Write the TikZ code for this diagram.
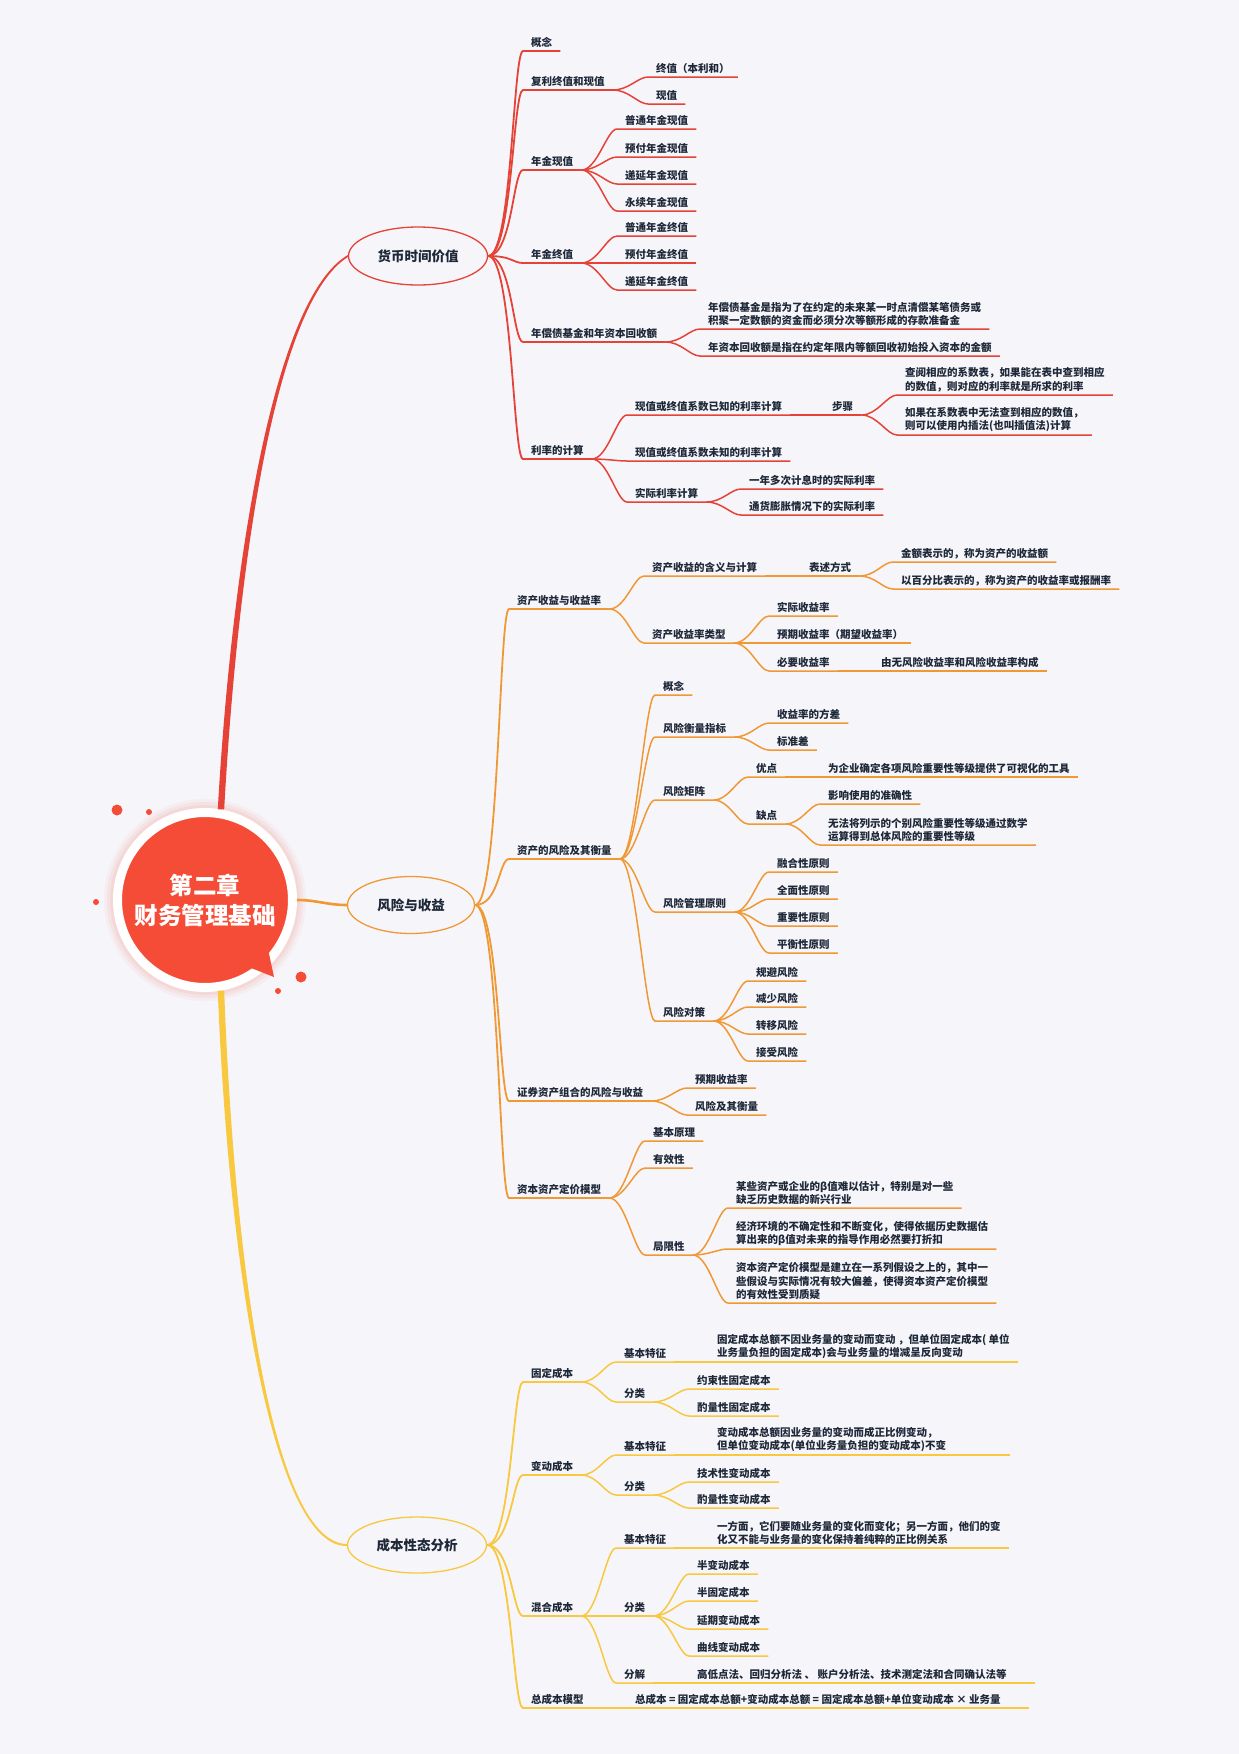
\documentclass[tikz,border=0pt]{standalone}
\usepackage{fontspec}
\usepackage{tikz}
\usetikzlibrary{shapes.geometric}
\newfontfamily\cjk{Noto Sans CJK SC}
\newcommand\lffont{\cjk\bfseries\fontsize{10.5}{13.6}\selectfont}
\newcommand\brfont{\cjk\bfseries\fontsize{13.5}{16}\selectfont}
\newcommand\ctfont{\cjk\bfseries\fontsize{23.5}{30}\selectfont}
\definecolor{bg}{RGB}{246,246,250}
\definecolor{ink}{RGB}{30,40,56}
\definecolor{redc}{RGB}{229,66,56}
\definecolor{orac}{RGB}{240,152,52}
\definecolor{yelc}{RGB}{248,200,64}
\definecolor{ctr}{RGB}{244,76,54}
\tikzset{
  lf/.style={anchor=south west,inner xsep=8,inner ysep=3,font=\lffont,text=ink,align=left},
  br/.style={ellipse,draw=#1,line width=1.3,fill=bg,minimum width=139,minimum height=58,inner sep=0,font=\brfont,text=ink},
  rl/.style={draw=redc,line width=1.5},
  ol/.style={draw=orac,line width=1.5},
  yl/.style={draw=yelc,line width=1.5},
  cr/.style={out=0,in=180,out distance=24,in distance=10},
  cn/.style={out=0,in=180,out distance=16,in distance=10},
}
\begin{document}
\begin{tikzpicture}[x=1pt,y=-1pt]
\useasboundingbox (0,0) rectangle (1239,1754);
\fill[bg] (0,0) rectangle (1239,1754);

% centre
\fill[ctr,opacity=0.05] (205,900) circle (101);
\fill[ctr,opacity=0.06] (205,900) circle (98);
\fill[ctr,opacity=0.08] (205,900) circle (95);
\node [circle,fill=ctr,draw=white,line width=9,minimum size=175,inner sep=0,text=white,font=\ctfont,align=center] (root) at(205,900){第二章\\财务管理基础};
\fill[ctr] (246,966) -- (274,977) -- (268,949) -- cycle;
\fill[ctr] (117,810) circle (5.5);
\fill[ctr] (149,812) circle (3);
\fill[ctr] (96,902) circle (3);
\fill[ctr] (301,977) circle (5.5);
\fill[ctr] (278,991) circle (3);

\node [br=redc] (m1) at(418,256){货币时间价值};
\node [br=orac,minimum width=127,minimum height=57] (m2) at(411,905){风险与收益};
\node [br=yelc,minimum height=56] (m3) at(417,1545){成本性态分析};

\fill[redc] ([xshift=-3.2]root.80) .. controls (232,560) and (274,298) .. ([yshift=1]m1.west) -- ([yshift=-1]m1.west) .. controls (276,302) and (238,560) .. ([xshift=3.2]root.80) -- cycle;
\draw[orac,line width=2.6] (root.east) to[out=0,in=180] (m2.west);
\fill[yelc] ([xshift=-3.2]root.-80) .. controls (229,1280) and (275,1547) .. ([yshift=-1]m3.west) -- ([yshift=1]m3.west) .. controls (275,1543) and (235,1280) .. ([xshift=3.2]root.-80) -- cycle;

% money
\node [lf] (a1) at(523,51){概念};
\node [lf] (a2) at(523,90){复利终值和现值};
\node [lf] (a21) at(648,77){终值（本利和）};
\node [lf] (a22) at(648,104){现值};
\node [lf] (a3) at(523,170){年金现值};
\node [lf] (a31) at(617,129){普通年金现值};
\node [lf] (a32) at(617,157){预付年金现值};
\node [lf] (a33) at(617,184){递延年金现值};
\node [lf] (a34) at(617,211){永续年金现值};
\node [lf] (a4) at(523,263){年金终值};
\node [lf] (a41) at(617,236){普通年金终值};
\node [lf] (a42) at(617,263){预付年金终值};
\node [lf] (a43) at(617,290){递延年金终值};
\node [lf] (a5) at(523,342){年偿债基金和年资本回收额};
\node [lf] (a51) at(700,329){年偿债基金是指为了在约定的未来某一时点清偿某笔债务或\\积聚一定数额的资金而必须分次等额形成的存款准备金};
\node [lf] (a52) at(700,356){年资本回收额是指在约定年限内等额回收初始投入资本的金额};
\node [lf] (a6) at(523,459){利率的计算};
\node [lf] (a61) at(627,415){现值或终值系数已知的利率计算};
\node [lf] (a611) at(824,415){步骤};
\node [lf] (a6111) at(897,395){查阅相应的系数表，如果能在表中查到相应\\的数值，则对应的利率就是所求的利率};
\node [lf] (a6112) at(897,435){如果在系数表中无法查到相应的数值，\\则可以使用内插法(也叫插值法)计算};
\node [lf] (a62) at(627,461){现值或终值系数未知的利率计算};
\node [lf] (a63) at(627,502){实际利率计算};
\node [lf] (a631) at(741,489){一年多次计息时的实际利率};
\node [lf] (a632) at(741,515){通货膨胀情况下的实际利率};

\draw[rl,line width=1.8](m1.east) to[cr] (a1.south west) -- (a1.south east);
\draw[rl,line width=1.8](m1.east) to[cr] (a2.south west) -- (a2.south east);
\draw[rl,line width=1.8](m1.east) to[cr] (a3.south west) -- (a3.south east);
\draw[rl,line width=1.8](m1.east) to[cr] (a4.south west) -- (a4.south east);
\draw[rl,line width=1.8](m1.east) to[cr] (a5.south west) -- (a5.south east);
\draw[rl,line width=1.8](m1.east) to[cr] (a6.south west) -- (a6.south east);
\draw[rl](a2.south east) to[cn] (a21.south west) -- (a21.south east);
\draw[rl](a2.south east) to[cn] (a22.south west) -- (a22.south east);
\draw[rl](a3.south east) to[cn] (a31.south west) -- (a31.south east);
\draw[rl](a3.south east) to[cn] (a32.south west) -- (a32.south east);
\draw[rl](a3.south east) to[cn] (a33.south west) -- (a33.south east);
\draw[rl](a3.south east) to[cn] (a34.south west) -- (a34.south east);
\draw[rl](a4.south east) to[cn] (a41.south west) -- (a41.south east);
\draw[rl](a4.south east) to[cn] (a42.south west) -- (a42.south east);
\draw[rl](a4.south east) to[cn] (a43.south west) -- (a43.south east);
\draw[rl](a5.south east) to[cn] (a51.south west) -- (a51.south east);
\draw[rl](a5.south east) to[cn] (a52.south west) -- (a52.south east);
\draw[rl](a6.south east) to[cn] (a61.south west) -- (a61.south east);
\draw[rl](a61.south east) -- (a611.south west) -- (a611.south east);
\draw[rl](a611.south east) to[cn] (a6111.south west) -- (a6111.south east);
\draw[rl](a611.south east) to[cn] (a6112.south west) -- (a6112.south east);
\draw[rl](a6.south east) to[cn] (a62.south west) -- (a62.south east);
\draw[rl](a6.south east) to[cn] (a63.south west) -- (a63.south east);
\draw[rl](a63.south east) to[cn] (a631.south west) -- (a631.south east);
\draw[rl](a63.south east) to[cn] (a632.south west) -- (a632.south east);

% risk
\node [lf] (b1) at(509,609){资产收益与收益率};
\node [lf] (b11) at(644,576){资产收益的含义与计算};
\node [lf] (b111) at(801,576){表述方式};
\node [lf] (b1111) at(893,562){金额表示的，称为资产的收益额};
\node [lf] (b1112) at(893,589){以百分比表示的，称为资产的收益率或报酬率};
\node [lf] (b12) at(644,643){资产收益率类型};
\node [lf] (b121) at(769,616){实际收益率};
\node [lf] (b122) at(769,643){预期收益率（期望收益率）};
\node [lf] (b123) at(769,671){必要收益率};
\node [lf] (b1231) at(873,671){由无风险收益率和风险收益率构成};
\node [lf] (b2) at(509,859){资产的风险及其衡量};
\node [lf] (b21) at(655,695){概念};
\node [lf] (b22) at(655,737){风险衡量指标};
\node [lf] (b221) at(769,723){收益率的方差};
\node [lf] (b222) at(769,750){标准差};
\node [lf] (b23) at(655,800){风险矩阵};
\node [lf] (b231) at(748,777){优点};
\node [lf] (b2311) at(820,777){为企业确定各项风险重要性等级提供了可视化的工具};
\node [lf] (b232) at(748,824){缺点};
\node [lf] (b2321) at(820,804){影响使用的准确性};
\node [lf] (b2322) at(820,845){无法将列示的个别风险重要性等级通过数学\\运算得到总体风险的重要性等级};
\node [lf] (b24) at(655,912){风险管理原则};
\node [lf] (b241) at(769,872){融合性原则};
\node [lf] (b242) at(769,899){全面性原则};
\node [lf] (b243) at(769,926){重要性原则};
\node [lf] (b244) at(769,953){平衡性原则};
\node [lf] (b25) at(655,1021){风险对策};
\node [lf] (b251) at(748,981){规避风险};
\node [lf] (b252) at(748,1007){减少风险};
\node [lf] (b253) at(748,1034){转移风险};
\node [lf] (b254) at(748,1061){接受风险};
\node [lf] (b3) at(509,1101){证券资产组合的风险与收益};
\node [lf] (b31) at(687,1088){预期收益率};
\node [lf] (b32) at(687,1115){风险及其衡量};
\node [lf] (b4) at(509,1198){资本资产定价模型};
\node [lf] (b41) at(645,1141){基本原理};
\node [lf] (b42) at(645,1168){有效性};
\node [lf] (b43) at(645,1255){局限性};
\node [lf] (b431) at(728,1208){某些资产或企业的β值难以估计，特别是对一些\\缺乏历史数据的新兴行业};
\node [lf] (b432) at(728,1249){经济环境的不确定性和不断变化，使得依据历史数据估\\算出来的β值对未来的指导作用必然要打折扣};
\node [lf] (b433) at(728,1303){资本资产定价模型是建立在一系列假设之上的，其中一\\些假设与实际情况有较大偏差，使得资本资产定价模型\\的有效性受到质疑};

\draw[ol,line width=1.8](m2.east) to[cr] (b1.south west) -- (b1.south east);
\draw[ol,line width=1.8](m2.east) to[cr] (b2.south west) -- (b2.south east);
\draw[ol,line width=1.8](m2.east) to[cr] (b3.south west) -- (b3.south east);
\draw[ol,line width=1.8](m2.east) to[cr] (b4.south west) -- (b4.south east);
\draw[ol](b1.south east) to[cn] (b11.south west) -- (b11.south east);
\draw[ol](b11.south east) -- (b111.south west) -- (b111.south east);
\draw[ol](b111.south east) to[cn] (b1111.south west) -- (b1111.south east);
\draw[ol](b111.south east) to[cn] (b1112.south west) -- (b1112.south east);
\draw[ol](b1.south east) to[cn] (b12.south west) -- (b12.south east);
\draw[ol](b12.south east) to[cn] (b121.south west) -- (b121.south east);
\draw[ol](b12.south east) to[cn] (b122.south west) -- (b122.south east);
\draw[ol](b12.south east) to[cn] (b123.south west) -- (b123.south east);
\draw[ol](b123.south east) -- (b1231.south west) -- (b1231.south east);
\draw[ol](b2.south east) to[cn] (b21.south west) -- (b21.south east);
\draw[ol](b2.south east) to[cn] (b22.south west) -- (b22.south east);
\draw[ol](b22.south east) to[cn] (b221.south west) -- (b221.south east);
\draw[ol](b22.south east) to[cn] (b222.south west) -- (b222.south east);
\draw[ol](b2.south east) to[cn] (b23.south west) -- (b23.south east);
\draw[ol](b23.south east) to[cn] (b231.south west) -- (b231.south east);
\draw[ol](b231.south east) -- (b2311.south west) -- (b2311.south east);
\draw[ol](b23.south east) to[cn] (b232.south west) -- (b232.south east);
\draw[ol](b232.south east) to[cn] (b2321.south west) -- (b2321.south east);
\draw[ol](b232.south east) to[cn] (b2322.south west) -- (b2322.south east);
\draw[ol](b2.south east) to[cn] (b24.south west) -- (b24.south east);
\draw[ol](b24.south east) to[cn] (b241.south west) -- (b241.south east);
\draw[ol](b24.south east) to[cn] (b242.south west) -- (b242.south east);
\draw[ol](b24.south east) to[cn] (b243.south west) -- (b243.south east);
\draw[ol](b24.south east) to[cn] (b244.south west) -- (b244.south east);
\draw[ol](b2.south east) to[cn] (b25.south west) -- (b25.south east);
\draw[ol](b25.south east) to[cn] (b251.south west) -- (b251.south east);
\draw[ol](b25.south east) to[cn] (b252.south west) -- (b252.south east);
\draw[ol](b25.south east) to[cn] (b253.south west) -- (b253.south east);
\draw[ol](b25.south east) to[cn] (b254.south west) -- (b254.south east);
\draw[ol](b3.south east) to[cn] (b31.south west) -- (b31.south east);
\draw[ol](b3.south east) to[cn] (b32.south west) -- (b32.south east);
\draw[ol](b4.south east) to[cn] (b41.south west) -- (b41.south east);
\draw[ol](b4.south east) to[cn] (b42.south west) -- (b42.south east);
\draw[ol](b4.south east) to[cn] (b43.south west) -- (b43.south east);
\draw[ol](b43.south east) to[cn] (b431.south west) -- (b431.south east);
\draw[ol](b43.south east) to[cn] (b432.south west) -- (b432.south east);
\draw[ol](b43.south east) to[cn] (b433.south west) -- (b433.south east);

% cost
\node [lf] (c1) at(523,1382){固定成本};
\node [lf] (c11) at(616,1362){基本特征};
\node [lf] (c111) at(709,1362){固定成本总额不因业务量的变动而变动 ，但单位固定成本( 单位\\业务量负担的固定成本)会与业务量的增减呈反向变动};
\node [lf] (c12) at(616,1402){分类};
\node [lf] (c121) at(689,1389){约束性固定成本};
\node [lf] (c122) at(689,1416){酌量性固定成本};
\node [lf] (c2) at(523,1475){变动成本};
\node [lf] (c21) at(616,1455){基本特征};
\node [lf] (c211) at(709,1455){变动成本总额因业务量的变动而成正比例变动，\\但单位变动成本(单位业务量负担的变动成本)不变};
\node [lf] (c22) at(616,1495){分类};
\node [lf] (c221) at(689,1482){技术性变动成本};
\node [lf] (c222) at(689,1508){酌量性变动成本};
\node [lf] (c3) at(523,1616){混合成本};
\node [lf] (c31) at(616,1548){基本特征};
\node [lf] (c311) at(709,1548){一方面，它们要随业务量的变化而变化；另一方面，他们的变\\化又不能与业务量的变化保持着纯粹的正比例关系};
\node [lf] (c32) at(616,1616){分类};
\node [lf] (c321) at(689,1574){半变动成本};
\node [lf] (c322) at(689,1601){半固定成本};
\node [lf] (c323) at(689,1629){延期变动成本};
\node [lf] (c324) at(689,1656){曲线变动成本};
\node [lf] (c33) at(616,1683){分解};
\node [lf] (c331) at(689,1683){高低点法、回归分析法 、 账户分析法、技术测定法和合同确认法等};
\node [lf] (c4) at(523,1708){总成本模型};
\node [lf] (c41) at(627,1708){总成本 = 固定成本总额+变动成本总额 = 固定成本总额+单位变动成本 × 业务量};

\draw[yl,line width=1.8](m3.east) to[cr] (c1.south west) -- (c1.south east);
\draw[yl,line width=1.8](m3.east) to[cr] (c2.south west) -- (c2.south east);
\draw[yl,line width=1.8](m3.east) to[cr] (c3.south west) -- (c3.south east);
\draw[yl,line width=1.8](m3.east) to[cr] (c4.south west) -- (c4.south east);
\draw[yl](c1.south east) to[cn] (c11.south west) -- (c11.south east);
\draw[yl](c11.south east) -- (c111.south west) -- (c111.south east);
\draw[yl](c1.south east) to[cn] (c12.south west) -- (c12.south east);
\draw[yl](c12.south east) to[cn] (c121.south west) -- (c121.south east);
\draw[yl](c12.south east) to[cn] (c122.south west) -- (c122.south east);
\draw[yl](c2.south east) to[cn] (c21.south west) -- (c21.south east);
\draw[yl](c21.south east) -- (c211.south west) -- ([xshift=56]c211.south east);
\draw[yl](c2.south east) to[cn] (c22.south west) -- (c22.south east);
\draw[yl](c22.south east) to[cn] (c221.south west) -- (c221.south east);
\draw[yl](c22.south east) to[cn] (c222.south west) -- (c222.south east);
\draw[yl](c3.south east) to[cn] (c31.south west) -- (c31.south east);
\draw[yl](c31.south east) -- (c311.south west) -- (c311.south east);
\draw[yl](c3.south east) to[cn] (c32.south west) -- (c32.south east);
\draw[yl](c32.south east) to[cn] (c321.south west) -- (c321.south east);
\draw[yl](c32.south east) to[cn] (c322.south west) -- (c322.south east);
\draw[yl](c32.south east) to[cn] (c323.south west) -- (c323.south east);
\draw[yl](c32.south east) to[cn] (c324.south west) -- (c324.south east);
\draw[yl](c3.south east) to[cn] (c33.south west) -- (c33.south east);
\draw[yl](c33.south east) -- (c331.south west) -- ([xshift=20]c331.south east);
\draw[yl](c4.south east) -- (c41.south west) -- ([xshift=20]c41.south east);

\end{tikzpicture}
\end{document}
